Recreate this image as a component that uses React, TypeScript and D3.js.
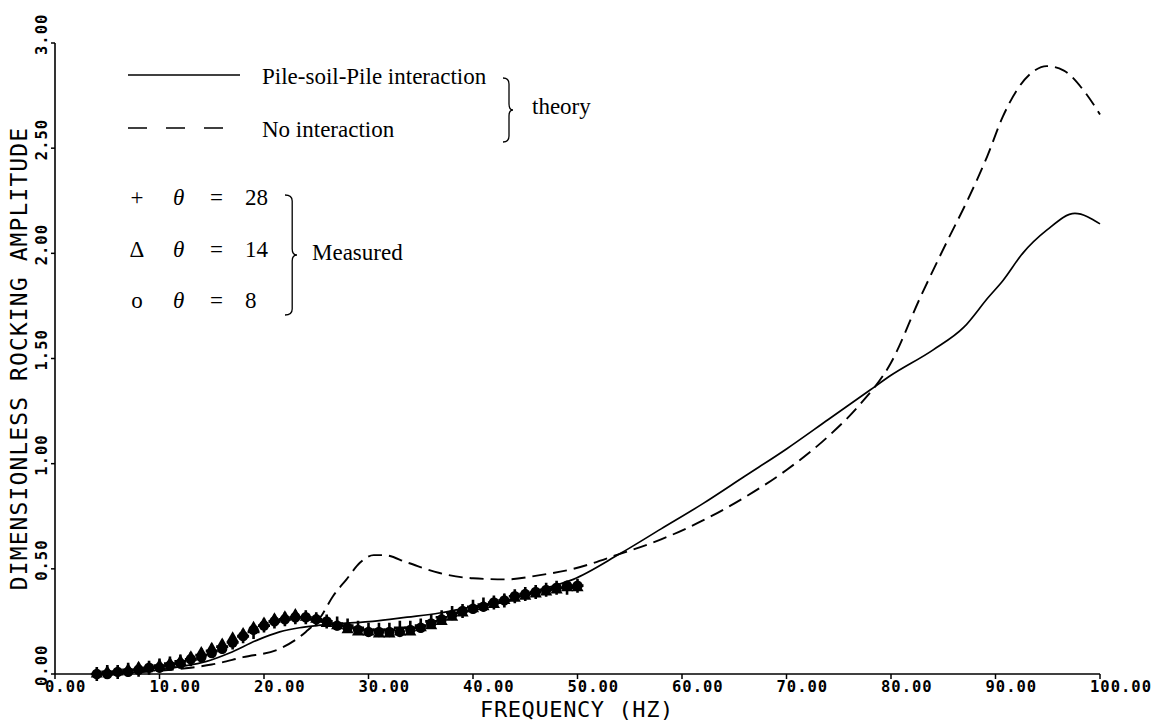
import React from "react";
import * as d3 from "d3";

// ---------- data ----------
const xTicks = [0, 10, 20, 30, 40, 50, 60, 70, 80, 90, 100];
const yTicks = [0, 0.5, 1, 1.5, 2, 2.5, 3];

// theory: pile-soil-pile interaction (solid)
const solidFreq = [4, 8, 10, 12, 14.5, 16.7, 19.3, 21.5, 23.4, 25, 27.3, 30.4, 33.7, 36.8, 40, 43.2, 46.4, 49.6, 54, 58, 62, 66, 70, 74, 78, 80, 84, 87, 89.3, 90.7, 92.6, 94.9, 97.6, 100];
const solidVal = [0.0, 0.01, 0.02, 0.035, 0.06, 0.1, 0.16, 0.2, 0.22, 0.23, 0.24, 0.25, 0.27, 0.29, 0.32, 0.35, 0.4, 0.45, 0.57, 0.69, 0.81, 0.94, 1.07, 1.21, 1.35, 1.42, 1.54, 1.65, 1.79, 1.87, 2.0, 2.11, 2.19, 2.14];

// theory: no interaction (dashed)
const dashFreq = [4, 10, 13, 15, 18, 21.5, 24, 25.4, 26.6, 27.9, 29.2, 30.5, 31.5, 33.7, 36.8, 40, 43.2, 46.4, 49.6, 54, 58, 62, 66, 70, 74, 77, 80, 82.8, 85.4, 87.3, 89.2, 90.7, 92.1, 93.5, 94.9, 96.5, 98.5, 100];
const dashVal = [0.0, 0.015, 0.03, 0.045, 0.08, 0.12, 0.2, 0.27, 0.37, 0.45, 0.53, 0.565, 0.565, 0.53, 0.48, 0.455, 0.45, 0.47, 0.5, 0.57, 0.64, 0.73, 0.84, 0.97, 1.13, 1.28, 1.48, 1.79, 2.06, 2.25, 2.46, 2.65, 2.78, 2.86, 2.89, 2.87, 2.77, 2.66];

// measured
const measFreq = [4, 5, 6, 7, 8, 9, 10, 11, 12, 13, 14, 15, 16, 17, 18, 19, 20, 21, 22, 23, 24, 25, 26, 27, 28, 29, 30, 31, 32, 33, 34, 35, 36, 37, 38, 39, 40, 41, 42, 43, 44, 45, 46, 47, 48, 49, 50];
const plus28 = [0.0, 0.01, 0.01, 0.02, 0.02, 0.03, 0.04, 0.05, 0.06, 0.07, 0.09, 0.11, 0.13, 0.15, 0.18, 0.2, 0.23, 0.25, 0.26, 0.27, 0.27, 0.26, 0.25, 0.24, 0.23, 0.22, 0.21, 0.21, 0.21, 0.22, 0.22, 0.23, 0.25, 0.27, 0.29, 0.3, 0.32, 0.33, 0.34, 0.35, 0.37, 0.38, 0.39, 0.4, 0.41, 0.41, 0.42];
const tri14 = [0.0, 0.01, 0.01, 0.02, 0.03, 0.03, 0.04, 0.05, 0.06, 0.08, 0.1, 0.12, 0.14, 0.17, 0.19, 0.22, 0.24, 0.26, 0.27, 0.28, 0.27, 0.26, 0.24, 0.23, 0.21, 0.2, 0.2, 0.19, 0.19, 0.2, 0.2, 0.22, 0.23, 0.25, 0.27, 0.29, 0.31, 0.32, 0.33, 0.35, 0.36, 0.37, 0.38, 0.39, 0.4, 0.41, 0.41];
const circ8 = [0.0, 0.0, 0.01, 0.01, 0.02, 0.03, 0.03, 0.04, 0.05, 0.07, 0.08, 0.1, 0.12, 0.15, 0.18, 0.21, 0.23, 0.25, 0.26, 0.27, 0.27, 0.26, 0.25, 0.23, 0.22, 0.21, 0.2, 0.2, 0.2, 0.2, 0.21, 0.22, 0.24, 0.26, 0.28, 0.3, 0.31, 0.32, 0.34, 0.35, 0.37, 0.38, 0.39, 0.4, 0.41, 0.42, 0.42];

const legendTheory = ["Pile-soil-Pile interaction", "No interaction"];
const legendMeasured = [
  { sym: "+", angle: "28" },
  { sym: "\u0394", angle: "14" },
  { sym: "o", angle: "8" },
];

// ---------- layout ----------
const W = 1162;
const H = 721;
const x = d3.scaleLinear().domain([0, 100]).range([55, 1100]);
const y = d3.scaleLinear().domain([0, 3]).range([674, 43]);

const mono = "'DejaVu Sans Mono', monospace";
const serif = "'Liberation Serif', 'Times New Roman', serif";

function brace(x0: number, y0: number, y1: number, w: number) {
  const ym = (y0 + y1) / 2;
  const x1 = x0 + w * 0.6;
  const x2 = x0 + w;
  const r = 6;
  return `M${x0},${y0} Q${x1},${y0} ${x1},${y0 + r} L${x1},${ym - r} Q${x1},${ym} ${x2},${ym} Q${x1},${ym} ${x1},${ym + r} L${x1},${y1 - r} Q${x1},${y1} ${x0},${y1}`;
}

export default function App() {
  const line = d3
    .line<[number, number]>()
    .x((d) => x(d[0]))
    .y((d) => y(d[1]))
    .curve(d3.curveMonotoneX);

  const solidPts = solidFreq.map((f, i) => [f, solidVal[i]] as [number, number]);
  const dashPts = dashFreq.map((f, i) => [f, dashVal[i]] as [number, number]);

  const triPath = d3.symbol().type(d3.symbolTriangle).size(64)();

  return (
    <svg width={W} height={H} style={{ position: "absolute", left: 0, top: 0, background: "#fff" }}>
      {/* axes */}
      <line x1={x(0)} x2={x(100)} y1={y(0)} y2={y(0)} stroke="#000" strokeWidth={1.6} />
      <line x1={x(0)} x2={x(0)} y1={y(0)} y2={y(3)} stroke="#000" strokeWidth={1.6} />
      {xTicks.map((t) => (
        <g key={"x" + t}>
          <line x1={x(t)} x2={x(t)} y1={y(0)} y2={y(0) + 5} stroke="#000" strokeWidth={1.5} />
          <text x={x(t) - 10} y={692} fontFamily={mono} fontWeight="bold" fontSize={15.5} letterSpacing={1}>
            {t.toFixed(2)}
          </text>
        </g>
      ))}
      {yTicks.map((t) => (
        <g key={"y" + t}>
          <line x1={x(0) - 4} x2={x(0)} y1={y(t)} y2={y(t)} stroke="#000" strokeWidth={1.5} />
          <text
            transform={`translate(47,${y(t) + 12}) rotate(-90)`}
            fontFamily={mono}
            fontWeight="bold"
            fontSize={15.5}
            letterSpacing={1}
          >
            {t.toFixed(2)}
          </text>
        </g>
      ))}
      <text x={577} y={716.5} textAnchor="middle" fontFamily={mono} fontSize={22} letterSpacing={0.6}>
        FREQUENCY (HZ)
      </text>
      <text
        transform={`translate(27,${(y(0) + y(3)) / 2}) rotate(-90)`}
        textAnchor="middle"
        fontFamily={mono}
        fontSize={23}
        letterSpacing={1.1}
      >
        DIMENSIONLESS ROCKING AMPLITUDE
      </text>

      {/* theory curves */}
      <path d={line(dashPts) || ""} fill="none" stroke="#000" strokeWidth={1.9} strokeDasharray="14 7" />
      <path d={line(solidPts) || ""} fill="none" stroke="#000" strokeWidth={1.7} />

      {/* measured */}
      {measFreq.map((f, i) => (
        <path key={"t" + i} d={triPath || ""} transform={`translate(${x(f)},${y(tri14[i])})`} fill="#000" />
      ))}
      {measFreq.map((f, i) => (
        <circle key={"c" + i} cx={x(f)} cy={y(circ8[i])} r={5.2} fill="#000" />
      ))}
      {measFreq.map((f, i) => (
        <path
          key={"p" + i}
          d="M-6,0H6M0,-7V7"
          transform={`translate(${x(f)},${y(plus28[i])})`}
          stroke="#000"
          strokeWidth={2.6}
        />
      ))}

      {/* legend: theory */}
      <line x1={128} x2={240} y1={75} y2={75} stroke="#000" strokeWidth={1.4} />
      <line x1={128} x2={228} y1={128} y2={128} stroke="#000" strokeWidth={1.4} strokeDasharray="19 19" />
      <text x={262} y={84} fontFamily={serif} fontSize={23}>
        {legendTheory[0]}
      </text>
      <text x={262} y={137} fontFamily={serif} fontSize={23}>
        {legendTheory[1]}
      </text>
      <path d={brace(503, 78, 142, 10)} fill="none" stroke="#000" strokeWidth={1.3} />
      <text x={532} y={114} fontFamily={serif} fontSize={23}>
        theory
      </text>

      {/* legend: measured */}
      {legendMeasured.map((m, i) => {
        const by = 205 + i * 51.5;
        return (
          <g key={"m" + i}>
            <text x={137} y={by} textAnchor="middle" fontFamily={serif} fontSize={23}>
              {m.sym}
            </text>
            <text x={173} y={by} fontFamily={serif} fontStyle="italic" fontSize={23}>
              {"\u03B8"}
            </text>
            <text x={210} y={by} fontFamily={serif} fontSize={23}>
              =
            </text>
            <text x={245} y={by} fontFamily={serif} fontSize={23}>
              {m.angle}
            </text>
          </g>
        );
      })}
      <path d={brace(285, 195, 315, 12)} fill="none" stroke="#000" strokeWidth={1.3} />
      <text x={312} y={260} fontFamily={serif} fontSize={23}>
        Measured
      </text>
    </svg>
  );
}
